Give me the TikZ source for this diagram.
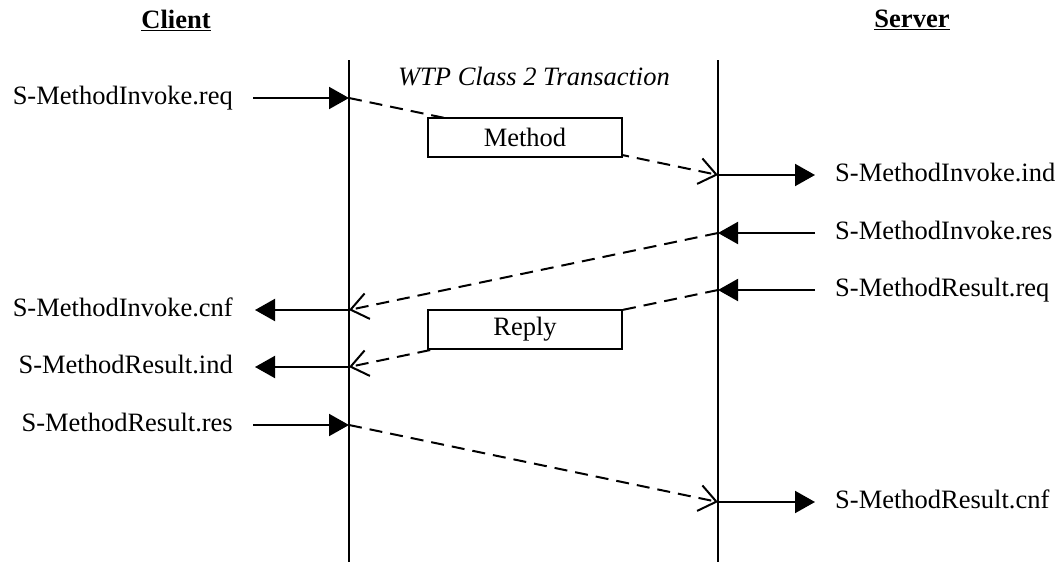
\documentclass[tikz,border=0pt]{standalone}
\usepackage{fontspec}
\setmainfont{Liberation Serif}
\usetikzlibrary{arrows.meta}
\begin{document}
\begin{tikzpicture}[x=1pt,y=-1pt,
  every node/.style={font=\fontsize{26.5}{30}\selectfont, inner sep=0pt},
  life/.style={line width=2pt},
  prim/.style={line width=2pt, -{Triangle[length=20pt,width=22pt]}},
  msg/.style={line width=2pt, dash pattern=on 13pt off 8pt, -{Straight Barb[length=17pt,width=26pt,line width=2pt]}},
  pdu/.style={draw, line width=2pt, fill=white, minimum width=194pt, minimum height=39pt},
  lbl/.style={anchor=base east},
  rbl/.style={anchor=base west},
  head/.style={font=\fontsize{26.5}{30}\selectfont\bfseries}
]
\useasboundingbox (0,0) rectangle (1061,562);
% headings
\node[head] (client) at (176,20) {\underline{Client}};
\node[head] (server) at (912,20) {\underline{Server}};
\node[font=\fontsize{26.5}{30}\selectfont\itshape] (wtp) at (534,77) {WTP Class 2 Transaction};
% lifelines
\coordinate (ctop) at (349,60); \coordinate (cbot) at (349,562);
\coordinate (stop) at (718,60); \coordinate (sbot) at (718,562);
\draw[life] (ctop) -- (cbot);
\draw[life] (stop) -- (sbot);
% lifeline points
\coordinate (c1) at (349,98);
\coordinate (s2) at (718,175);
\coordinate (s3) at (718,233);
\coordinate (s4) at (718,290);
\coordinate (c5) at (349,310);
\coordinate (c6) at (349,367);
\coordinate (c7) at (349,425);
\coordinate (s8) at (718,502);
% outer arrow ends
\coordinate (a1) at (253,98);
\coordinate (a2) at (815,175);
\coordinate (a3) at (815,233);
\coordinate (a4) at (815,290);
\coordinate (a5) at (255,310);
\coordinate (a6) at (255,367);
\coordinate (a7) at (253,425);
\coordinate (a8) at (815,502);
% labels
\node[lbl] (l1) at (233,104) {S-MethodInvoke.req};
\node[rbl] (l2) at (835,181) {S-MethodInvoke.ind};
\node[rbl] (l3) at (835,239) {S-MethodInvoke.res};
\node[rbl] (l4) at (835,296) {S-MethodResult.req};
\node[lbl] (l5) at (233,316) {S-MethodInvoke.cnf};
\node[lbl] (l6) at (233,373) {S-MethodResult.ind};
\node[lbl] (l7) at (233,431) {S-MethodResult.res};
\node[rbl] (l8) at (835,508) {S-MethodResult.cnf};
% primitive arrows
\draw[prim] (a1) -- (c1);
\draw[prim] (s2) -- (a2);
\draw[prim] (a3) -- (s3);
\draw[prim] (a4) -- (s4);
\draw[prim] (c5) -- (a5);
\draw[prim] (c6) -- (a6);
\draw[prim] (a7) -- (c7);
\draw[prim] (s8) -- (a8);
% messages
\draw[msg] (c1) -- (s2);
\draw[msg] (s3) -- (c5);
\draw[msg] (s4) -- (c6);
\draw[msg] (c7) -- (s8);
% PDU boxes
\node[pdu] (method) at (525,137.5) {Method};
\node[pdu] (reply) at (525,329) {Reply};
\end{tikzpicture}
\end{document}
